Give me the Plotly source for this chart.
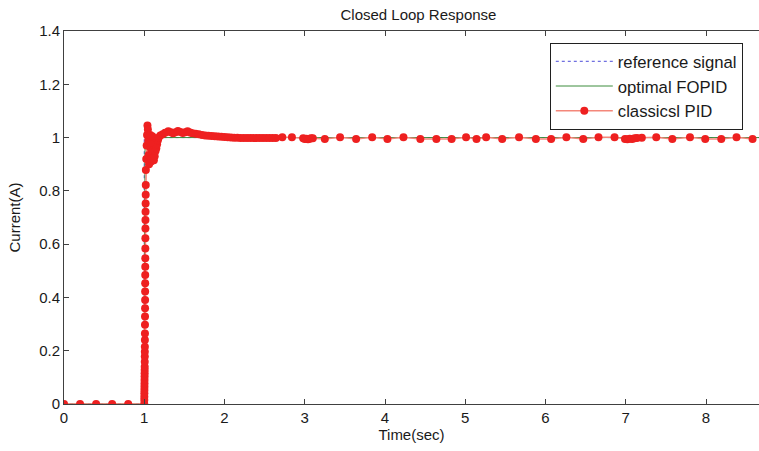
import plotly.graph_objects as go

# reference step
t_ref = [0, 1.0, 1.0, 8.66]
i_ref = [0, 0, 1.0, 1.0]

# optimal FOPID response
t_fopid = [0, 1.0, 1.002, 1.005, 1.01, 1.02, 1.05, 1.2, 8.66]
i_fopid = [0, 0, 0.45, 0.85, 0.97, 0.995, 1.0, 1.0, 1.0]

# classical PID response
t_pid = [0, 0.2, 0.4, 0.6, 0.8,
         1.000, 1.0005, 1.001, 1.0015, 1.002, 1.0025, 1.003, 1.0035, 1.004, 1.0045,
         1.005, 1.0055, 1.006, 1.0065, 1.007, 1.0075, 1.008, 1.0085, 1.009, 1.0095,
         1.010, 1.0105, 1.011, 1.0115, 1.012, 1.0125, 1.013, 1.0135, 1.014, 1.0145,
         1.015, 1.016, 1.017, 1.018, 1.019,
         1.020, 1.025, 1.030, 1.035, 1.040, 1.045, 1.050, 1.055, 1.060, 1.065,
         1.070, 1.075, 1.080, 1.085, 1.090, 1.095, 1.100, 1.110, 1.120, 1.130,
         1.140, 1.150, 1.160, 1.170, 1.180,
         1.20, 1.23, 1.26, 1.30, 1.33, 1.36, 1.39, 1.42, 1.45, 1.48, 1.51, 1.54,
         1.57, 1.60, 1.64, 1.68, 1.72, 1.76, 1.80, 1.84, 1.88, 1.92, 1.96, 2.00,
         2.04, 2.08, 2.12, 2.16, 2.20, 2.24, 2.28, 2.32, 2.36, 2.40, 2.44, 2.48,
         2.52, 2.56, 2.60, 2.64,
         2.72, 2.84, 2.98, 3.00, 3.02, 3.04, 3.06, 3.08, 3.10, 3.25, 3.44, 3.64,
         3.84, 4.03, 4.23, 4.44, 4.64, 4.83, 5.01, 5.14, 5.26, 5.46, 5.67, 5.88,
         6.07, 6.26, 6.47, 6.66, 6.86, 6.99, 7.02, 7.05, 7.08, 7.11, 7.14, 7.20,
         7.38, 7.58, 7.80, 7.99, 8.19, 8.38, 8.58]
i_pid = [0, 0, 0, 0, 0,
         0.000, 0.015, 0.027, 0.040, 0.053, 0.065, 0.077, 0.090, 0.103, 0.115,
         0.128, 0.140, 0.159, 0.178, 0.196, 0.215, 0.240, 0.265, 0.297, 0.328,
         0.359, 0.390, 0.422, 0.453, 0.484, 0.515, 0.547, 0.584, 0.622, 0.659,
         0.691, 0.722, 0.753, 0.785, 0.822,
         0.878, 0.920, 0.970, 1.010, 1.045, 1.030, 0.990, 0.935, 0.900, 0.930,
         1.000, 1.010, 0.960, 0.910, 0.920, 0.980, 1.005, 0.950, 0.915, 0.930,
         0.950, 0.960, 0.975, 0.990, 1.000,
         1.008, 1.012, 1.018, 1.024, 1.020, 1.016, 1.020, 1.025, 1.021, 1.017, 1.020, 1.024,
         1.019, 1.016, 1.014, 1.012, 1.010, 1.008, 1.007, 1.006, 1.005, 1.004, 1.003, 1.002,
         1.001, 1.000, 0.999, 0.999, 0.998, 0.998, 0.998, 0.998, 0.998, 0.998, 0.998, 0.998,
         0.998, 0.998, 0.998, 0.998,
         1.001, 1.001, 0.997, 0.995, 0.996, 0.994, 0.996, 0.997, 0.997, 0.995, 1.001, 0.995,
         1.001, 0.995, 1.001, 0.995, 0.995, 0.995, 1.001, 0.995, 1.001, 0.995, 1.001, 0.995,
         0.995, 1.001, 0.995, 1.001, 1.001, 0.995, 0.994, 0.996, 0.995, 0.997, 0.998, 0.999,
         1.001, 0.995, 1.001, 0.995, 0.995, 1.001, 0.995]

font = "Arial, 'Liberation Sans', sans-serif"
axis_col = "#404040"

fig = go.Figure()
fig.add_trace(go.Scatter(x=t_ref, y=i_ref, mode="lines", name="reference signal",
                         line=dict(color="#4a4ad8", width=1, dash="dot")))
fig.add_trace(go.Scatter(x=t_fopid, y=i_fopid, mode="lines", name="optimal FOPID",
                         line=dict(color="#3c8c3c", width=1)))
fig.add_trace(go.Scatter(x=t_pid, y=i_pid, mode="lines+markers", name="classicsl PID",
                         line=dict(color="#f4877a", width=1.5),
                         marker=dict(color="#ee2020", size=8)))

fig.update_layout(
    width=759, height=451,
    margin=dict(l=64, r=0, t=31, b=47, autoexpand=False),
    paper_bgcolor="white", plot_bgcolor="white",
    font=dict(family=font, size=15, color="#1a1a1a"),
    title=dict(text="Closed Loop Response", x=0.51, xref="paper", xanchor="center",
               y=0.968, yref="container", yanchor="middle",
               font=dict(family=font, size=15, color="#1a1a1a")),
    legend=dict(x=0.699, y=0.968, xanchor="left", yanchor="top",
                bgcolor="white", bordercolor="#202020", borderwidth=1,
                font=dict(family=font, size=16.7, color="#1a1a1a"),
                itemwidth=57, tracegroupgap=0),
    showlegend=True,
)
fig.update_xaxes(range=[0, 8.66], dtick=1, showgrid=False, zeroline=False,
                 showline=True, linecolor=axis_col, linewidth=1, mirror="ticks",
                 ticks="inside", ticklen=5, tickcolor=axis_col, automargin=False,
                 title=dict(text="Time(sec)", standoff=4, font=dict(size=15)))
fig.update_yaxes(range=[0, 1.4], dtick=0.2, showgrid=False, zeroline=False,
                 showline=True, linecolor=axis_col, linewidth=1,
                 ticks="inside", ticklen=5, tickcolor=axis_col, automargin=False,
                 title=dict(text="Current(A)", standoff=14, font=dict(size=15)))

fig.write_html("out.html", config={"displayModeBar": False},
               post_script="document.body.style.margin='0';")
